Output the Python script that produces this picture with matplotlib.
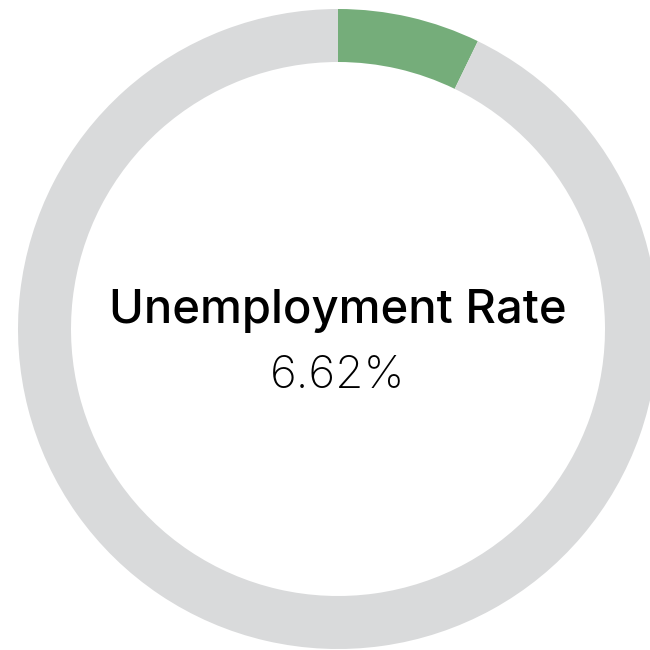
import matplotlib.pyplot as plt

# ring segments (share of the circle as drawn), label text
segment_names = ['Unemployed', 'Rest']
segment_values = [7.2, 92.8]
segment_colors = ['#75ad7a', '#d9dadb']
title_text = 'Unemployment Rate'
rate_text = '6.62%'

fig = plt.figure(figsize=(6.5, 6.5), dpi=100)
ax = fig.add_axes([0, 0, 1, 1])

ax.pie(segment_values, colors=segment_colors, startangle=90, counterclock=False,
       center=(338, 321), radius=320, frame=True,
       wedgeprops=dict(width=53, linewidth=0))
ax.set_xlim(0, 650)
ax.set_ylim(0, 650)
ax.set_aspect('equal')
ax.axis('off')

ax.text(338, 327, title_text, ha='center', va='baseline', fontsize=34,
        family=['Inter', 'DejaVu Sans'], fontweight='medium', color='#000000')
ax.text(338, 262, rate_text, ha='center', va='baseline', fontsize=33,
        family=['Inter', 'DejaVu Sans'], fontweight='light', color='#000000')

plt.savefig('out.png', dpi=100)
